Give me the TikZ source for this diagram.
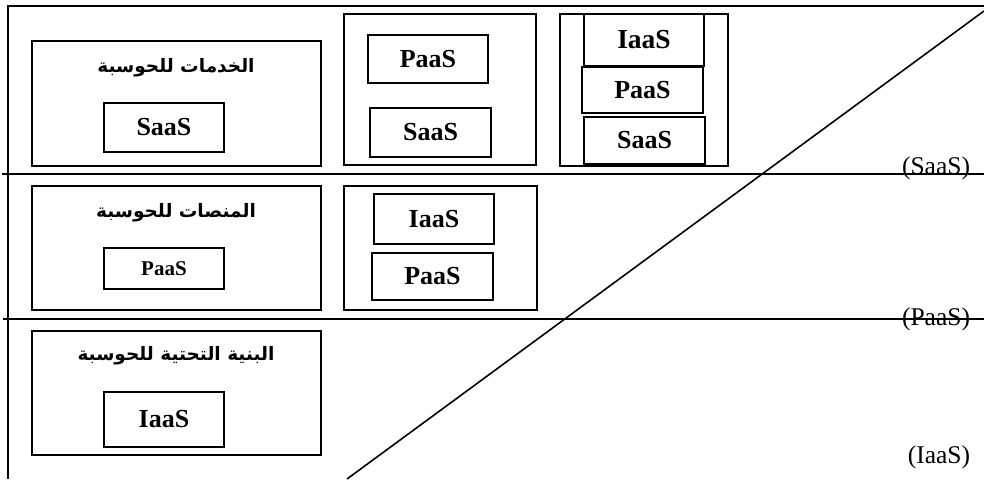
\documentclass[tikz,border=0pt]{standalone}
\usepackage{fontspec}
\setmainfont{Liberation Serif}
\newfontfamily\arabicfont[Script=Arabic]{DejaVu Sans}
\TeXXeTstate=1
\begin{document}
\begin{tikzpicture}[x=1pt,y=-1pt,
  frame/.style={line width=1.6pt},
  outerbox/.style={draw,line width=1.4pt,inner sep=0pt,rectangle},
  lblbox/.style={draw,line width=1.4pt,inner sep=0pt,rectangle,font=\bfseries\fontsize{26}{26}\selectfont},
  smallbox/.style={lblbox,font=\bfseries\fontsize{21}{21}\selectfont},
  artext/.style={inner sep=0pt,font=\arabicfont\bfseries\fontsize{18.5}{18.5}\selectfont},
  sidelbl/.style={inner sep=0pt,font=\fontsize{25.5}{25.5}\selectfont}]
\useasboundingbox (0,0) rectangle (984,479);
% frame lines
\coordinate (t0) at (8,6); \coordinate (t1) at (984,6);
\coordinate (a0) at (2,174); \coordinate (a1) at (984,174);
\coordinate (b0) at (3,319); \coordinate (b1) at (984,319);
\coordinate (v0) at (8,5); \coordinate (v1) at (8,479);
\coordinate (d0) at (984,11); \coordinate (d1) at (347,479);
\draw[frame] (t0) -- (t1);
\draw[frame] (a0) -- (a1);
\draw[frame] (b0) -- (b1);
\draw[frame] (v0) -- (v1);
\draw[frame] (d0) -- (d1);
% row 1
\node[outerbox,minimum width=289pt,minimum height=125pt] (A) at (176.5,103.5) {};
\node[artext] (Aar) at (176,68) {\beginR الخدمات للحوسبة\endR};
\node[lblbox,minimum width=120pt,minimum height=49pt] (As) at (164,127.5) {SaaS};
\node[outerbox,minimum width=192pt,minimum height=151pt] (B) at (440,89.5) {};
\node[lblbox,minimum width=120pt,minimum height=48pt] (Bp) at (428,59) {PaaS};
\node[lblbox,minimum width=121pt,minimum height=49pt] (Bs) at (430.5,132.5) {SaaS};
\node[outerbox,minimum width=168pt,minimum height=152pt] (C) at (644,90) {};
\node[lblbox,minimum width=120pt,minimum height=52pt,font=\bfseries\fontsize{27.5}{27.5}\selectfont] (Ci) at (644,40) {IaaS};
\node[lblbox,minimum width=121pt,minimum height=46pt] (Cp) at (642.5,90) {PaaS};
\node[lblbox,minimum width=121pt,minimum height=47pt] (Cs) at (644.5,140.5) {SaaS};
% row 2
\node[outerbox,minimum width=289pt,minimum height=124pt] (D) at (176.5,248) {};
\node[artext] (Dar) at (176,213) {\beginR المنصات للحوسبة\endR};
\node[smallbox,minimum width=120pt,minimum height=41pt] (Dp) at (164,268.5) {PaaS};
\node[outerbox,minimum width=193pt,minimum height=124pt] (E) at (440.5,248) {};
\node[lblbox,minimum width=120pt,minimum height=50pt] (Ei) at (434,219) {IaaS};
\node[lblbox,minimum width=121pt,minimum height=47pt] (Ep) at (432.5,276.5) {PaaS};
% row 3
\node[outerbox,minimum width=289pt,minimum height=124pt] (F) at (176.5,393) {};
\node[artext] (Far) at (176,356) {\beginR البنية التحتية للحوسبة\endR};
\node[lblbox,minimum width=120pt,minimum height=55pt] (Fi) at (164,419.5) {IaaS};
% side labels
\node[sidelbl] (Ls) at (936,168) {(SaaS)};
\node[sidelbl] (Lp) at (936,319) {(PaaS)};
\node[sidelbl] (Li) at (939,457) {(IaaS)};
\end{tikzpicture}
\end{document}
